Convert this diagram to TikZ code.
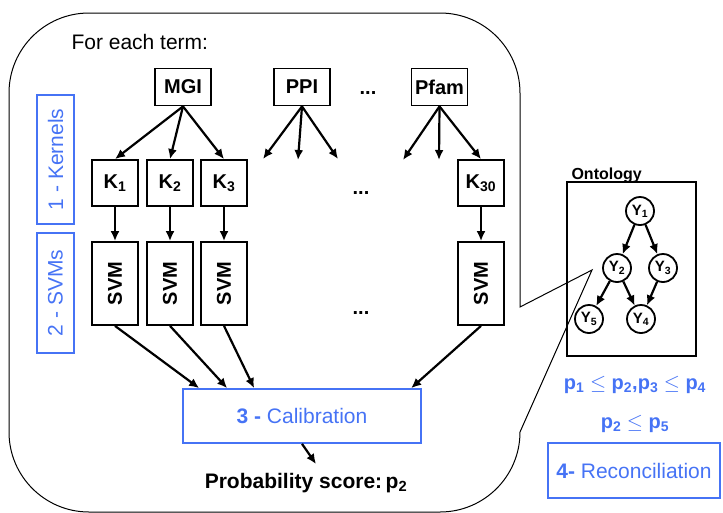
\documentclass[tikz,border=0pt]{standalone}
\usepackage{fontspec}
\setmainfont{Liberation Sans}
\usetikzlibrary{arrows.meta,calc,positioning}
\definecolor{stepblue}{RGB}{70,115,245}

\begin{document}
\begin{tikzpicture}[x=1pt,y=-1pt]

\tikzset{srcnode/.style={draw,line width=1.8pt,inner sep=0pt,minimum width=56,minimum height=37,font=\fontsize{20}{24}\selectfont\bfseries},
kernode/.style={draw,line width=1.8pt,inner sep=0pt,minimum width=46,minimum height=46,font=\fontsize{20}{24}\selectfont\bfseries},
svmnode/.style={draw,line width=1.8pt,inner sep=0pt,minimum width=46,minimum height=83,font=\fontsize{20}{24}\selectfont\bfseries},
stepbox/.style={draw=stepblue,line width=1.7pt,inner sep=0pt,text=stepblue,font=\fontsize{21}{25}\selectfont},
ynode/.style={shape=circle,draw,line width=1.8pt,inner sep=0pt,minimum size=28,font=\fontsize{15}{18}\selectfont\bfseries},
arr/.style={-{Latex[length=10pt,width=9pt]},line width=2.2pt},
dots/.style={font=\fontsize{20}{24}\selectfont\bfseries}}

\useasboundingbox (0,0) rectangle (723,512);
\clip (0,0) rectangle (723,512);

% Callout frame
\draw[line width=1pt] (89,13) -- (440,13) arc[start angle=90,end angle=0,radius=80pt] -- (520,307) -- (592,270) -- (520,432) arc[start angle=0,end angle=-90,radius=80pt] -- (89,512) arc[start angle=270,end angle=180,radius=80pt] -- (9,93) arc[start angle=180,end angle=90,radius=80pt] -- cycle;
\node (title) [anchor=base west,font=\fontsize{21}{25}\selectfont] at (68,49) {For each term:};

% Step labels
\node (kernlab) [stepbox,minimum width=37,minimum height=129] at (55.5,159.5) {\rotatebox{90}{1 - Kernels}};
\node (svmlab) [stepbox,minimum width=37,minimum height=120] at (55.5,293) {\rotatebox{90}{2 - SVMs}};

% Data sources
\node (mgi) [srcnode] at (183,87) {MGI};
\node (ppi) [srcnode] at (302,87) {PPI};
\node (pfam) [srcnode] at (439.5,87) {Pfam};
\node (dtop) [dots] at (368,93) {...};

% Kernels
\node (k1) [kernode] at (115,183) {K\textsubscript{1}};
\node (k2) [kernode] at (170,183) {K\textsubscript{2}};
\node (k3) [kernode] at (224,183) {K\textsubscript{3}};
\node (k30) [kernode] at (481,183) {K\textsubscript{30}};
\node (dmid) [dots] at (361,193) {...};

% SVMs
\node (svm1) [svmnode] at (115,283.5) {\rotatebox{90}{SVM}};
\node (svm2) [svmnode] at (170,283.5) {\rotatebox{90}{SVM}};
\node (svm3) [svmnode] at (224,283.5) {\rotatebox{90}{SVM}};
\node (svm30) [svmnode] at (481,283.5) {\rotatebox{90}{SVM}};
\node (dlow) [dots] at (361,313) {...};

% Calibration
\node (calib) [stepbox,minimum width=238,minimum height=54] at (302,416) {\textbf{3 -} Calibration};
\node (prob) [anchor=base,font=\fontsize{21}{25}\selectfont\bfseries] at (306,488) {Probability score:\,p\textsubscript{2}};
\coordinate (probtip) at (316,464);

% Free arrow ends
\coordinate (ppia) at (263,159);
\coordinate (ppib) at (298,160);
\coordinate (ppic) at (338,159);
\coordinate (pfama) at (403,160);
\coordinate (pfamb) at (439,160);

% Edges
\draw[arr] (mgi.south) -- (k1.north); \draw[arr] (mgi.south) -- (k2.north); \draw[arr] (mgi.south) -- (k3.north);
\draw[arr] (ppi.south) -- (ppia); \draw[arr] (ppi.south) -- (ppib); \draw[arr] (ppi.south) -- (ppic);
\draw[arr] (pfam.south) -- (pfama); \draw[arr] (pfam.south) -- (pfamb); \draw[arr] (pfam.south) -- (k30.north);
\draw[arr] (k1) -- (svm1); \draw[arr] (k2) -- (svm2); \draw[arr] (k3) -- (svm3); \draw[arr] (k30) -- (svm30);
\draw[arr] (svm1.south) -- ($(calib.north west)+(17,0)$); \draw[arr] (svm2.south) -- ($(calib.north west)+(45,0)$);
\draw[arr] (svm3.south) -- ($(calib.north west)+(72,0)$); \draw[arr] (svm30.south) -- ($(calib.north west)+(229,0)$);
\draw[arr] (calib.south) -- (probtip);

% Ontology
\draw[line width=1.2pt] (567,182) rectangle (696,356);
\node (ontolab) [anchor=base west,font=\fontsize{16}{19}\selectfont\bfseries] at (568,179) {Ontology};
\node (y1) [ynode] at (640,211) {Y\textsubscript{1}};
\node (y2) [ynode] at (617,268) {Y\textsubscript{2}};
\node (y3) [ynode] at (663,268) {Y\textsubscript{3}};
\node (y5) [ynode] at (589,319) {Y\textsubscript{5}};
\node (y4) [ynode] at (641,319) {Y\textsubscript{4}};
\draw[arr] (y1) -- (y2); \draw[arr] (y1) -- (y3); \draw[arr] (y2) -- (y5); \draw[arr] (y2) -- (y4); \draw[arr] (y3) -- (y4);

% Constraints and reconciliation
\node (cons1) [text=stepblue,font=\fontsize{20}{24}\selectfont\bfseries] at (635,385) {p\textsubscript{1} $\leq$ p\textsubscript{2},p\textsubscript{3} $\leq$ p\textsubscript{4}};
\node (cons2) [text=stepblue,font=\fontsize{20}{24}\selectfont\bfseries] at (635,424) {p\textsubscript{2} $\leq$ p\textsubscript{5}};
\node (recon) [stepbox,minimum width=172,minimum height=55] at (634,470.5) {\textbf{4-} Reconciliation};

\end{tikzpicture}
\end{document}
